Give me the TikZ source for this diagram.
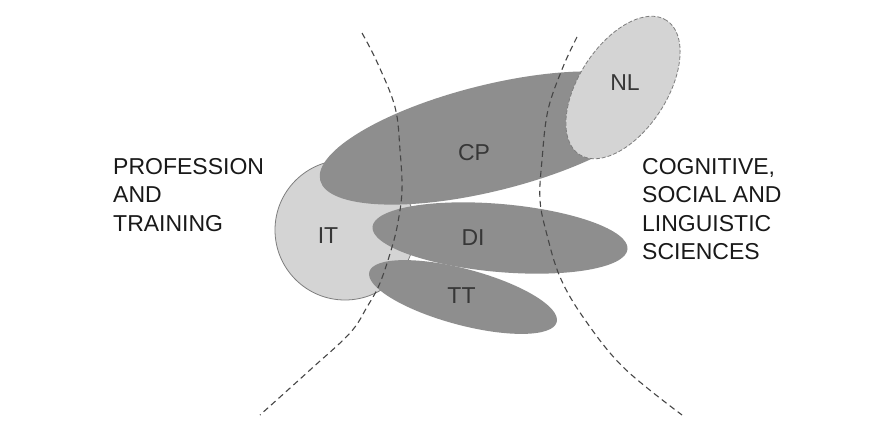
\documentclass[tikz,border=0pt]{standalone}
\usepackage{fontspec}
\setmainfont{Liberation Sans}
\definecolor{darkfill}{RGB}{142,142,142}
\definecolor{lightfill}{RGB}{212,212,212}
\definecolor{rimgray}{RGB}{125,125,125}
\definecolor{arcgray}{RGB}{70,70,70}
\definecolor{inktext}{RGB}{25,25,25}
\definecolor{innertext}{RGB}{55,55,55}
\begin{document}
\begin{tikzpicture}[x=1pt,y=-1pt,
  darkblob/.style={fill=darkfill},
  lightblob/.style={fill=lightfill, draw=rimgray, line width=0.8pt},
  nlblob/.style={fill=lightfill, draw=rimgray, line width=0.8pt, dash pattern=on 4pt off 2pt},
  fieldarc/.style={draw=arcgray, line width=1.1pt, dash pattern=on 6pt off 4pt},
  outerlabel/.style={font=\fontsize{23}{28.5}\selectfont, text=inktext, align=left, inner sep=0pt, anchor=north west},
  innerlabel/.style={font=\fontsize{23}{28}\selectfont, text=innertext, inner sep=0pt}]
\useasboundingbox (0,0) rectangle (880,428);
\fill[white] (0,0) rectangle (880,428);
% shapes
\filldraw[lightblob] (345,230) circle [radius=70pt];
\fill[darkblob, shift={(490,138)}, rotate=14] (0,0) ellipse [x radius=175pt, y radius=53pt];
\fill[darkblob, shift={(500,238)}, rotate=-5] (0,0) ellipse [x radius=128pt, y radius=34pt];
\fill[darkblob, shift={(463,297)}, rotate=-15] (0,0) ellipse [x radius=97pt, y radius=28pt];
\filldraw[nlblob, shift={(623,87.5)}, rotate=57] (0,0) ellipse [x radius=80pt, y radius=44pt];
% dashed boundaries
\draw[fieldarc] plot[smooth, tension=0.6] coordinates {(362,33) (377,62) (395,107) (400,150) (402,190) (398,222) (392,247) (380,283) (367,307) (350,333) (310,370) (260,415)};
\draw[fieldarc] plot[smooth, tension=0.6] coordinates {(577,37) (563,67) (548,110) (542,160) (540,200) (547,235) (560,277) (583,317) (623,367) (682,415)};
% labels
\node[innerlabel] (cp) at (474,153) {CP};
\node[innerlabel] (di) at (473,237.5) {DI};
\node[innerlabel] (tt) at (461.5,296) {TT};
\node[innerlabel] (it) at (328,236) {IT};
\node[innerlabel] (nl) at (625,83) {NL};
\node[outerlabel] (prof) at (113,158) {PROFESSION\\AND\\TRAINING};
\node[outerlabel] (cogn) at (642,158) {COGNITIVE,\\SOCIAL AND\\LINGUISTIC\\SCIENCES};
\end{tikzpicture}
\end{document}
